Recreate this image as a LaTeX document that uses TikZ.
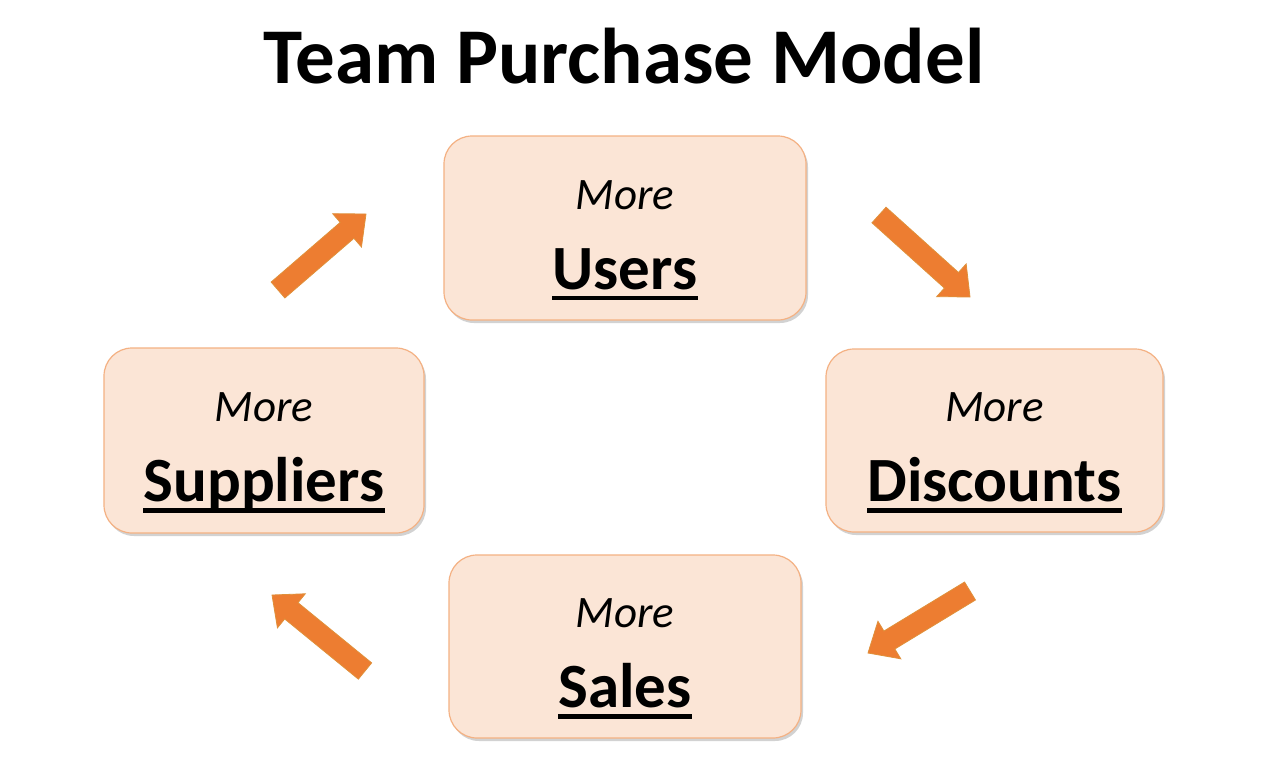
\documentclass[tikz,border=0pt]{standalone}
\usepackage{fontspec}
\setmainfont{Carlito}
\usetikzlibrary{calc,shadows}
\definecolor{boxfill}{HTML}{FBE5D6}
\definecolor{boxline}{HTML}{F4B183}
\definecolor{arrfill}{HTML}{ED7D31}
\definecolor{arrline}{HTML}{E0903A}
\tikzset{
  box/.style={rounded corners=28pt, fill=boxfill, draw=boxline, line width=1.2pt,
    drop shadow={shadow xshift=2pt, shadow yshift=-3pt, opacity=0.25, fill=black!70}},
  moretxt/.style={inner sep=0pt, anchor=base, font=\fontsize{45}{54}\selectfont\itshape},
  bigtxt/.style={inner sep=0pt, anchor=base, font=\fontsize{63}{76}\selectfont\bfseries},
  uline/.style={line width=4.5pt, line cap=butt},
  blockarrow/.style={fill=arrfill, draw=arrline, line width=0.8pt, line join=miter},
}
\newcommand\boxtext[2]{%
  \node[moretxt] (#1m) at ($(#1.center)+(0,-19)$) {More};
  \node[bigtxt] (#1b) at ($(#1.center)+(0,61)$) {#2};
  \draw[uline] ($(#1b.base west)+(0,9)$) -- ($(#1b.base east)+(0,9)$);
}
\newcommand\blockarr[2]{% #1 tail coordinate, #2 tip coordinate
  \coordinate (#1h) at ($(#2)!25pt!(#1)$);
  \path[blockarrow] ($(#1)!10.5pt!90:(#2)$) -- ($(#1h)!10.5pt!90:(#2)$)
    -- ($(#1h)!22pt!90:(#2)$) -- (#2) -- ($(#1h)!22pt!-90:(#2)$)
    -- ($(#1h)!10.5pt!-90:(#2)$) -- ($(#1)!10.5pt!-90:(#2)$) -- cycle;
}
\begin{document}
\begin{tikzpicture}[x=1pt,y=-1pt]
\useasboundingbox[fill=white] (0,0) rectangle (1266,766);
\node[inner sep=0pt, anchor=base, font=\fontsize{79}{90}\selectfont\bfseries] (title) at (624,83) {Team Purchase Model};

\node[box, minimum width=362pt, minimum height=184pt] (users) at (625,228) {};
\node[box, minimum width=320pt, minimum height=185pt] (suppliers) at (264,440.5) {};
\node[box, minimum width=337pt, minimum height=183pt] (discounts) at (994.5,440.5) {};
\node[box, minimum width=352pt, minimum height=183pt] (sales) at (625,646.5) {};

\boxtext{users}{Users}
\boxtext{suppliers}{Suppliers}
\boxtext{discounts}{Discounts}
\boxtext{sales}{Sales}

\coordinate (a1s) at (879,215); \coordinate (a1e) at (970,297);
\coordinate (a2s) at (278,290); \coordinate (a2e) at (366,214);
\coordinate (a3s) at (970,591); \coordinate (a3e) at (868,653);
\coordinate (a4s) at (365,671); \coordinate (a4e) at (272,595);
\blockarr{a1s}{a1e}
\blockarr{a2s}{a2e}
\blockarr{a3s}{a3e}
\blockarr{a4s}{a4e}
\end{tikzpicture}
\end{document}
